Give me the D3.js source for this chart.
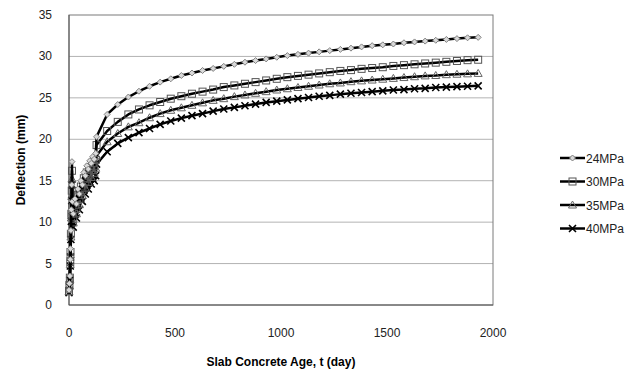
<!DOCTYPE html>
<html>
<head>
<meta charset="utf-8">
<script src="https://d3js.org/d3.v7.min.js"></script>
<style>
  body { margin: 0; background: #fff; font-family: "Liberation Sans", Arial, sans-serif; }
  .grid line { stroke: #b3b3b3; stroke-width: 1; }
  .tick-label { font-size: 12px; fill: #222; }
  .axis-title { font-size: 12px; font-weight: bold; fill: #000; }
  .legend-text { font-size: 12px; fill: #222; }
</style>
</head>
<body>
<div id="chart"></div>
<script>
// time (days) of each reading
const days = [0, 2, 4, 6, 7, 9, 11, 13, 14, 16, 20, 28, 35, 42, 49, 56, 63, 70, 77, 84, 91, 98, 105, 112, 119, 126,
  130, 180, 230, 280, 330, 380, 430, 480, 530, 580, 630, 680, 730, 780, 830, 880, 930, 980, 1030, 1080, 1130, 1180,
  1230, 1280, 1330, 1380, 1430, 1480, 1530, 1580, 1630, 1680, 1730, 1780, 1830, 1880, 1930];

const mpa24 = [1.8, 2.6, 3.5, 5.5, 6.8, 9.0, 11.5, 14.5, 17.3, 12.5, 11.0, 12.8, 12.2, 14.0, 13.4, 15.0, 14.5, 16.0, 15.6, 16.8, 16.4, 17.4, 17.1, 17.9, 17.6, 18.3,
  20.3, 23.0, 24.2, 25.1, 25.8, 26.4, 26.9, 27.3, 27.7, 28.0, 28.3, 28.55, 28.8, 29.05, 29.3, 29.5, 29.7, 29.9, 30.1, 30.25, 30.4, 30.55,
  30.7, 30.85, 31.0, 31.15, 31.3, 31.4, 31.5, 31.65, 31.75, 31.85, 31.95, 32.05, 32.15, 32.25, 32.3];
const mpa30 = [1.7, 2.4, 3.3, 5.2, 6.4, 8.6, 11.0, 13.8, 16.2, 11.8, 10.4, 12.1, 11.6, 13.3, 12.8, 14.3, 13.9, 15.3, 14.9, 16.0, 15.6, 16.6, 16.3, 17.1, 16.8, 17.5,
  19.3, 21.0, 22.1, 23.0, 23.6, 24.1, 24.5, 24.9, 25.2, 25.5, 25.75, 26.0, 26.3, 26.5, 26.7, 26.9, 27.1, 27.3, 27.5, 27.65, 27.8, 27.95,
  28.1, 28.25, 28.35, 28.5, 28.6, 28.7, 28.85, 28.95, 29.05, 29.15, 29.25, 29.35, 29.45, 29.55, 29.6];
const mpa35 = [1.6, 2.3, 3.1, 4.9, 6.1, 8.2, 10.5, 13.1, 15.2, 11.2, 9.9, 11.5, 11.0, 12.6, 12.1, 13.6, 13.2, 14.5, 14.1, 15.2, 14.8, 15.7, 15.4, 16.2, 15.9, 16.5,
  18.0, 19.7, 20.7, 21.5, 22.0, 22.6, 23.1, 23.5, 23.8, 24.1, 24.4, 24.7, 24.9, 25.15, 25.35, 25.55, 25.75, 25.95, 26.1, 26.25, 26.4, 26.55,
  26.7, 26.8, 26.95, 27.05, 27.15, 27.25, 27.35, 27.45, 27.55, 27.65, 27.7, 27.8, 27.85, 27.9, 27.95];
const mpa40 = [1.5, 2.2, 3.0, 4.7, 5.8, 7.9, 10.1, 12.6, 14.5, 10.7, 9.4, 10.9, 10.5, 12.0, 11.5, 12.9, 12.5, 13.8, 13.4, 14.4, 14.0, 14.9, 14.6, 15.3, 15.0, 15.6,
  17.0, 18.5, 19.5, 20.2, 20.8, 21.3, 21.8, 22.2, 22.55, 22.85, 23.1, 23.4, 23.65, 23.85, 24.05, 24.25, 24.45, 24.6, 24.75, 24.9, 25.05, 25.2,
  25.3, 25.45, 25.55, 25.65, 25.75, 25.85, 25.95, 26.0, 26.1, 26.15, 26.25, 26.3, 26.35, 26.4, 26.45];

const seriesNames = ["24MPa", "30MPa", "35MPa", "40MPa"];
const markerTypes = ["diamond", "square", "triangle", "cross"];
const xTicks = [0, 500, 1000, 1500, 2000];
const yTicks = [0, 5, 10, 15, 20, 25, 30, 35];

const series = [mpa24, mpa30, mpa35, mpa40].map((vals, i) => ({
  name: seriesNames[i],
  marker: markerTypes[i],
  points: days.map((d, j) => ({ t: d, v: vals[j] }))
}));

const width = 643, height = 373;
const margin = { left: 69, right: 150, top: 15, bottom: 68 };

const svg = d3.select("#chart").append("svg")
  .attr("width", width)
  .attr("height", height);

const x = d3.scaleLinear().domain([0, 2000]).range([margin.left, width - margin.right]);
const y = d3.scaleLinear().domain([0, 35]).range([height - margin.bottom, margin.top]);

// gridlines
svg.append("g").attr("class", "grid")
  .selectAll("line")
  .data(yTicks.slice(1, -1))
  .enter().append("line")
  .attr("x1", x(0)).attr("x2", x(2000))
  .attr("y1", d => y(d)).attr("y2", d => y(d));

// plot frame
svg.append("rect")
  .attr("x", x(0)).attr("y", y(35))
  .attr("width", x(2000) - x(0)).attr("height", y(0) - y(35))
  .attr("fill", "none").attr("stroke", "#7a7a7a").attr("stroke-width", 1);
svg.append("line")
  .attr("x1", x(0)).attr("x2", x(0)).attr("y1", y(0)).attr("y2", y(35))
  .attr("stroke", "#555").attr("stroke-width", 1);
svg.append("line")
  .attr("x1", x(0)).attr("x2", x(2000)).attr("y1", y(0)).attr("y2", y(0))
  .attr("stroke", "#555").attr("stroke-width", 1);

// tick labels
svg.append("g").selectAll("text")
  .data(yTicks)
  .enter().append("text")
  .attr("class", "tick-label")
  .attr("x", x(0) - 17)
  .attr("y", d => y(d) + 4)
  .attr("text-anchor", "end")
  .text(d => d);

svg.append("g").selectAll("text")
  .data(xTicks)
  .enter().append("text")
  .attr("class", "tick-label")
  .attr("x", d => x(d))
  .attr("y", y(0) + 32)
  .attr("text-anchor", "middle")
  .text(d => d);

// axis titles
svg.append("text")
  .attr("class", "axis-title")
  .attr("text-anchor", "middle")
  .attr("transform", `translate(25,${(y(0) + y(35)) / 2}) rotate(-90)`)
  .text("Deflection (mm)");

svg.append("text")
  .attr("class", "axis-title")
  .attr("text-anchor", "middle")
  .attr("x", (x(0) + x(2000)) / 2)
  .attr("y", 366)
  .text("Slab Concrete Age, t (day)");

// marker drawing
function drawMarker(g, type, cx, cy) {
  if (type === "diamond") {
    g.append("path")
      .attr("d", `M${cx},${cy - 3}L${cx + 3},${cy}L${cx},${cy + 3}L${cx - 3},${cy}Z`)
      .attr("fill", "#d9d9d9").attr("stroke", "#808080").attr("stroke-width", 1);
  } else if (type === "square") {
    g.append("rect")
      .attr("x", cx - 3.5).attr("y", cy - 3.5).attr("width", 7).attr("height", 7)
      .attr("fill", "none").attr("stroke", "#555").attr("stroke-width", 1);
  } else if (type === "triangle") {
    g.append("path")
      .attr("d", `M${cx},${cy - 4}L${cx + 4},${cy + 3}L${cx - 4},${cy + 3}Z`)
      .attr("fill", "none").attr("stroke", "#666").attr("stroke-width", 1);
  } else {
    g.append("path")
      .attr("d", `M${cx - 3.5},${cy - 3.5}L${cx + 3.5},${cy + 3.5}M${cx - 3.5},${cy + 3.5}L${cx + 3.5},${cy - 3.5}`)
      .attr("stroke", "#000").attr("stroke-width", 1.6);
  }
}

const line = d3.line().x(d => x(d.t)).y(d => y(d.v));

series.slice().reverse().forEach(s => {
  const g = svg.append("g");
  g.append("path")
    .datum(s.points)
    .attr("d", line)
    .attr("fill", "none")
    .attr("stroke", "#000")
    .attr("stroke-width", 2.5)
    .attr("stroke-linejoin", "round");
  s.points.forEach(p => drawMarker(g, s.marker, x(p.t), y(p.v)));
});

// legend
const legend = svg.append("g");
series.forEach((s, i) => {
  const ly = 158 + i * 23.5;
  legend.append("line")
    .attr("x1", 560).attr("x2", 585).attr("y1", ly).attr("y2", ly)
    .attr("stroke", "#000").attr("stroke-width", 2.5);
  drawMarker(legend, s.marker, 572.5, ly);
  legend.append("text")
    .attr("class", "legend-text")
    .attr("x", 586).attr("y", ly + 4.5)
    .text(s.name);
});
</script>
</body>
</html>
